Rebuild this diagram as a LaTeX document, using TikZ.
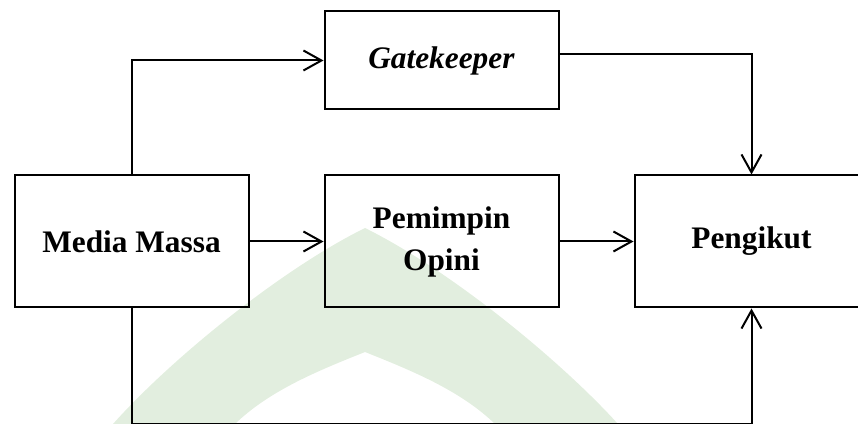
\documentclass[tikz,border=0pt]{standalone}
\usepackage{fontspec}
\setmainfont{Liberation Serif}
\usepackage{xcolor}
\usetikzlibrary{arrows.meta}
\definecolor{domegreen}{HTML}{E2EEDF}

\begin{document}
\begin{tikzpicture}[x=0.75pt, y=-0.75pt,
    box/.style={draw, line width=1.5pt, minimum width=175.5pt, minimum height=99pt,
        inner sep=0pt, align=center, font=\fontsize{23.5}{31.5}\selectfont\bfseries},
    flow/.style={line width=1.5pt, -{Straight Barb[length=13.5pt, width=15pt]}}]
    \useasboundingbox (0, 0) rectangle (858, 424);
    % faint dome in the background
    \fill [domegreen] (113, 424) .. controls (170, 360) and (280, 270) .. (365, 228)
        .. controls (450, 270) and (560, 360) .. (618, 424) -- (495, 424)
        .. controls (460, 390) and (410, 370) .. (365, 352)
        .. controls (320, 370) and (270, 390) .. (235, 424) -- cycle;

    \node [box] (media) at (131.5, 241.5) {Media Massa};
    \node [box, minimum height=73.5pt] (gate) at (441.5, 60.5) {\textit{Gatekeeper}};
    \node [box] (opini) at (441.5, 241.5) {Pemimpin\\Opini};
    \node [box] (ikut) at (751.5, 241.5) {Pengikut};
    \coordinate (bottom) at (131.5, 423.5);

    \draw [flow] (media.north) |- (gate.west);
    \draw [flow] ([yshift=4.5pt]gate.east) -| (ikut.north);
    \draw [flow] (media.east) -- (opini.west);
    \draw [flow] (opini.east) -- (ikut.west);
    \draw [flow] (media.south) -- (bottom) -| (ikut.south);
\end{tikzpicture}
\end{document}
